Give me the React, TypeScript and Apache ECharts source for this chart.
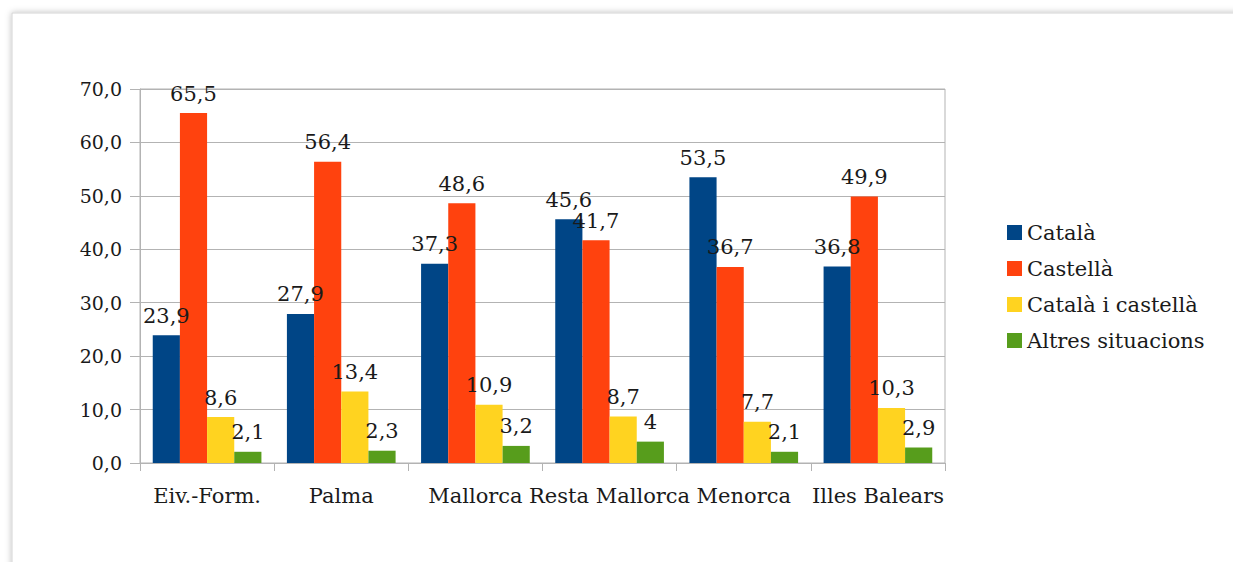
import React, { useEffect, useRef } from "react";
import * as echarts from "echarts";

const categories = ["Eiv.-Form.", "Palma", "Mallorca", "Resta Mallorca", "Menorca", "Illes Balears"];
const seriesNames = ["Català", "Castellà", "Català i castellà", "Altres situacions"];
const catala = [23.9, 27.9, 37.3, 45.6, 53.5, 36.8];
const castella = [65.5, 56.4, 48.6, 41.7, 36.7, 49.9];
const catalaCastella = [8.6, 13.4, 10.9, 8.7, 7.7, 10.3];
const altres = [2.1, 2.3, 3.2, 4, 2.1, 2.9];
const colors = ["#004586", "#ff420e", "#ffd320", "#579d1c"];

const FONT = '"DejaVu Serif", "Liberation Serif", serif';

export default function App() {
  const ref = useRef<HTMLDivElement>(null);
  useEffect(() => {
    document.body.style.margin = "0";
    const chart = echarts.init(ref.current!, null, { renderer: "svg" });
    const values = [catala, castella, catalaCastella, altres];
    chart.setOption({
      animation: false,
      backgroundColor: "#ffffff",
      textStyle: { fontFamily: FONT },
      graphic: [
        {
          type: "rect",
          z: -10,
          silent: true,
          shape: { x: 12, y: 13, width: 1260, height: 600 },
          style: {
            fill: "#ffffff",
            stroke: "#d4d4d4",
            lineWidth: 1,
            shadowBlur: 6,
            shadowColor: "rgba(0,0,0,0.25)",
          },
        },
      ],
      legend: {
        orient: "vertical",
        left: 1002,
        top: 217,
        itemWidth: 15,
        itemHeight: 15,
        itemGap: 15,
        icon: "rect",
        textStyle: { fontFamily: FONT, fontSize: 21, color: "#1a1a1a", padding: [0, 0, 0, 0] },
        data: seriesNames,
      },
      grid: { left: 140, top: 89, width: 805, height: 374, containLabel: false, show: true, borderColor: "#b3b3b3", borderWidth: 1 },
      xAxis: {
        type: "category",
        data: categories,
        axisLine: { lineStyle: { color: "#b3b3b3" } },
        axisTick: { show: true, length: 8, lineStyle: { color: "#b3b3b3" } },
        axisLabel: { fontFamily: FONT, fontSize: 21, color: "#1a1a1a", margin: 22, interval: 0 },
      },
      yAxis: {
        type: "value",
        min: 0,
        max: 70,
        interval: 10,
        axisLine: { show: true, lineStyle: { color: "#b3b3b3" } },
        axisTick: { show: true, length: 10, lineStyle: { color: "#b3b3b3" } },
        splitLine: { lineStyle: { color: "#b3b3b3" } },
        axisLabel: {
          fontFamily: FONT,
          fontSize: 19,
          color: "#1a1a1a",
          margin: 18,
          formatter: (v: number) => v.toFixed(1).replace(".", ","),
        },
      },
      series: seriesNames.map((name, i) => ({
        name,
        type: "bar",
        data: values[i],
        barGap: "0%",
        barCategoryGap: "19%",
        itemStyle: { color: colors[i] },
        label: {
          show: true,
          position: "top",
          distance: 9,
          fontFamily: FONT,
          fontSize: 21,
          color: "#1a1a1a",
          formatter: (p: any) => String(p.value).replace(".", ","),
        },
      })),
    });
    return () => chart.dispose();
  }, []);
  return <div ref={ref} style={{ width: 1233, height: 562 }} />;
}
